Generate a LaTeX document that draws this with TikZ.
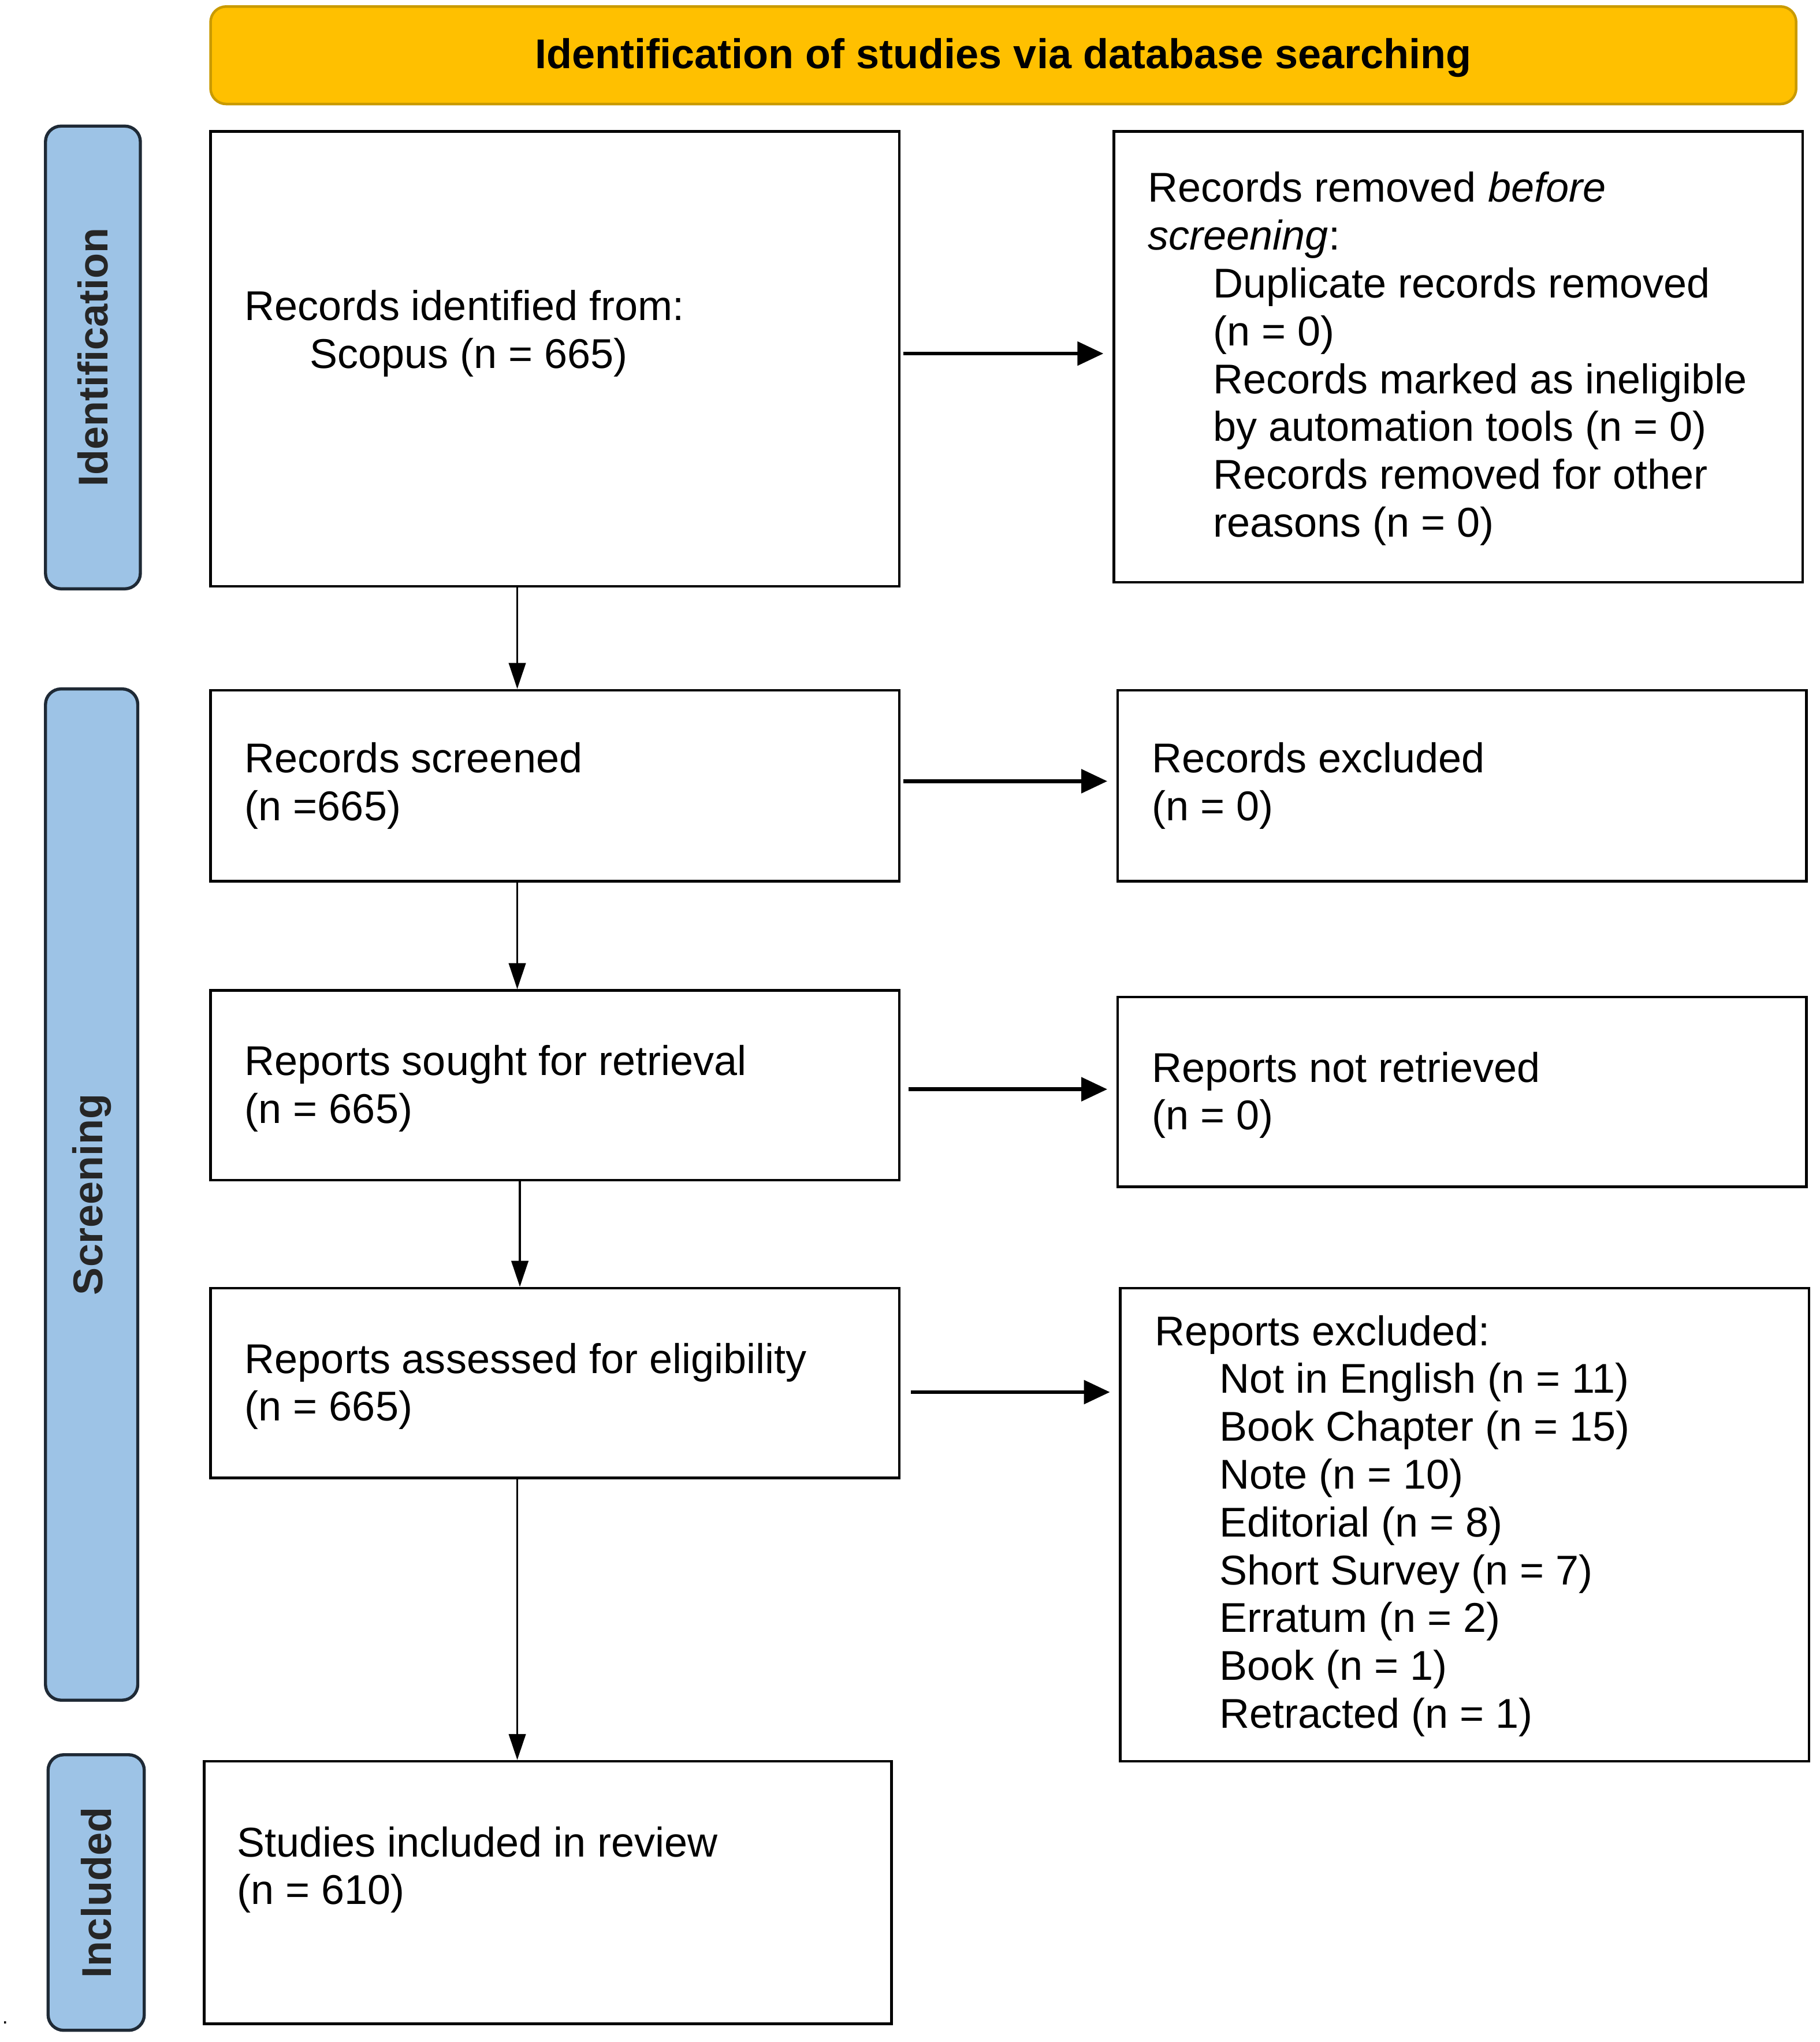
\documentclass[tikz,border=0pt]{standalone}
\usepackage{fontspec}
\setmainfont{Liberation Sans}
\usetikzlibrary{arrows.meta,calc}
\definecolor{hdrfill}{HTML}{FFC000}
\definecolor{hdrline}{HTML}{C99A00}
\definecolor{barfill}{HTML}{9DC3E6}
\definecolor{barline}{HTML}{1F2A36}
\begin{document}
\begin{tikzpicture}[x=0.5pt,y=-0.5pt,
  box/.style={draw=black,line width=1pt,fill=white,inner sep=0pt},
  hdr/.style={draw=hdrline,line width=1pt,fill=hdrfill,rounded corners=6pt,inner sep=0pt},
  sidebar/.style={draw=barline,line width=1.2pt,fill=barfill,rounded corners=6pt,inner sep=0pt},
  sidelabel/.style={rotate=90,font=\fontsize{16}{19}\selectfont\bfseries,text=black!85,inner sep=0pt},
  txt/.style={anchor=west,align=left,inner sep=0pt,font=\fontsize{16}{18.4}\selectfont},
  darr/.style={-{Triangle[length=10pt,width=6.5pt]},line width=0.8pt},
  harr/.style={-{Triangle[length=10pt,width=9pt]},line width=1.5pt,shorten <=1pt,shorten >=3.5pt}]
\useasboundingbox (0,0) rectangle (1400,1571);
% header
\node[hdr,minimum width=610pt,minimum height=37.5pt] (hdr) at (772,42.5) {};
\node[inner sep=0pt,font=\fontsize{16}{19}\selectfont\bfseries] (hdrtxt) at ([yshift=-1pt]hdr.center) {Identification of studies via database searching};
% side bars
\node[sidebar,minimum width=36.5pt,minimum height=178pt] (idbar) at (71.5,275) {};
\node[sidelabel] (idlab) at (idbar.center) {Identification};
\node[sidebar,minimum width=35.5pt,minimum height=389pt] (scbar) at (70.5,919) {};
\node[sidelabel] (sclab) at (scbar.center) {Screening};
\node[sidebar,minimum width=37pt,minimum height=106pt] (inbar) at (74,1456) {};
\node[sidelabel] (inlab) at (inbar.center) {Included};
% boxes
\node[box,minimum width=265pt,minimum height=175pt] (b1) at (427,276) {};
\node[box,minimum width=265pt,minimum height=173.5pt] (r1) at (1122,274.5) {};
\node[box,minimum width=265pt,minimum height=73.5pt] (b2) at (427,604.5) {};
\node[box,minimum width=265pt,minimum height=73.5pt] (r2) at (1125,604.5) {};
\node[box,minimum width=265pt,minimum height=73pt] (b3) at (427,835) {};
\node[box,minimum width=265pt,minimum height=73pt] (r3) at (1125,840) {};
\node[box,minimum width=265pt,minimum height=73pt] (b4) at (427,1064) {};
\node[box,minimum width=265pt,minimum height=182pt] (r4) at (1127,1173) {};
\node[box,minimum width=264.5pt,minimum height=101pt] (b5) at (421.5,1456) {};
% texts
\node[txt] (t1) at (188,256.5) {Records identified from:\\\hspace*{25pt}Scopus (n = 665)};
\node[txt] (tr1) at (883,276) {Records removed \textit{before}\\\textit{screening}:\\
\hspace*{25pt}Duplicate records removed\\\hspace*{25pt}(n = 0)\\
\hspace*{25pt}Records marked as ineligible\\\hspace*{25pt}by automation tools (n = 0)\\
\hspace*{25pt}Records removed for other\\\hspace*{25pt}reasons (n = 0)};
\node[txt] (t2) at (188,604.5) {Records screened\\(n =665)};
\node[txt] (tr2) at (886,604.5) {Records excluded\\(n = 0)};
\node[txt] (t3) at (188,837.5) {Reports sought for retrieval\\(n = 665)};
\node[txt] (tr3) at (886,842.5) {Reports not retrieved\\(n = 0)};
\node[txt] (t4) at (188,1066.5) {Reports assessed for eligibility\\(n = 665)};
\node[txt] (tr4) at (888,1174) {Reports excluded:\\
\hspace*{25pt}Not in English (n = 11)\\
\hspace*{25pt}Book Chapter (n = 15)\\
\hspace*{25pt}Note (n = 10)\\
\hspace*{25pt}Editorial (n = 8)\\
\hspace*{25pt}Short Survey (n = 7)\\
\hspace*{25pt}Erratum (n = 2)\\
\hspace*{25pt}Book (n = 1)\\
\hspace*{25pt}Retracted (n = 1)};
\node[txt] (t5) at (182,1438.5) {Studies included in review\\(n = 610)};
\node[inner sep=0pt,font=\fontsize{8}{9}\selectfont] (dot) at (4,1556) {.};
% connector coordinates
\coordinate (xa) at (398,0);
\coordinate (xb) at (400,0);
\coordinate (h1) at (0,272);
\coordinate (h2) at (0,601);
\coordinate (h3) at (0,838);
\coordinate (h4) at (0,1071);
% vertical arrows
\draw[darr] (b1.south -| xa) -- (b2.north -| xa);
\draw[darr] (b2.south -| xa) -- (b3.north -| xa);
\draw[darr] (b3.south -| xb) -- (b4.north -| xb);
\draw[darr] (b4.south -| xa) -- (b5.north -| xa);
% horizontal arrows
\draw[harr] (b1.east |- h1) -- (r1.west |- h1);
\draw[harr] (b2.east |- h2) -- (r2.west |- h2);
\draw[harr] ([xshift=2pt]b3.east |- h3) -- (r3.west |- h3);
\draw[harr] ([xshift=3pt]b4.east |- h4) -- (r4.west |- h4);
\end{tikzpicture}
\end{document}
